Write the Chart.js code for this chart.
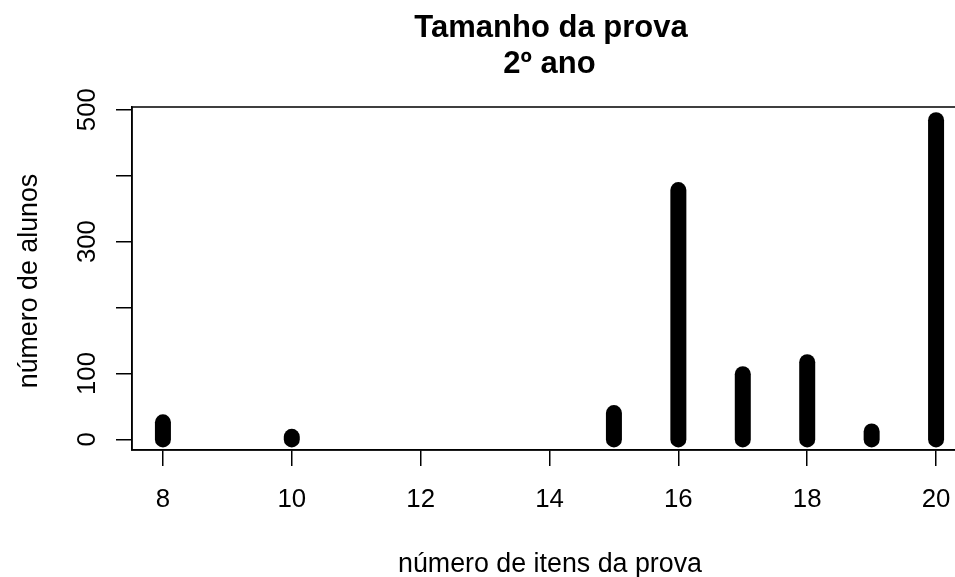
<!DOCTYPE html>
<html>
<head>
<meta charset="utf-8">
<script src="https://cdn.jsdelivr.net/npm/chart.js@4/dist/chart.umd.min.js"></script>
<style>
html, body { margin: 0; padding: 0; overflow: hidden; background: #fff; }
#wrap { width: 1000px; height: 577px; }
</style>
</head>
<body>
<div id="wrap"><canvas id="c" width="1000" height="577"></canvas></div>
<script>
// ---- data ----
const items = [8, 10, 15, 16, 17, 18, 19, 20];          // número de itens da prova
const counts = [26, 4, 40, 378, 99, 117, 12, 484];      // número de alunos
const xTicks = [8, 10, 12, 14, 16, 18, 20];
const xTickLabels = ['8', '10', '12', '14', '16', '18', '20'];
const yTicks = [0, 100, 200, 300, 400, 500];
const yTickLabels = ['0', '100', '', '300', '', '500'];
const titleLines = ['Tamanho da prova', '2º ano'];
const xTitle = 'número de itens da prova';
const yTitle = 'número de alunos';

const FONT = '"Liberation Sans", Arial, Helvetica, sans-serif';

const datasets = items.map((x, i) => ({
  data: [{ x: x, y: 0 }, { x: x, y: counts[i] }],
  borderColor: '#000',
  borderWidth: 16,
  borderCapStyle: 'round',
  pointRadius: 0,
  pointHoverRadius: 0,
  fill: false,
  clip: false,
  tension: 0
}));

const textPlugin = {
  id: 'rtext',
  afterDraw(chart) {
    const ctx = chart.ctx;
    const a = chart.chartArea;
    const xs = chart.scales.x, ys = chart.scales.y;
    ctx.save();
    // box
    ctx.strokeStyle = '#000';
    ctx.lineWidth = 1.5;
    ctx.strokeRect(a.left, a.top, a.right - a.left, a.bottom - a.top);
    ctx.fillStyle = '#000';
    // x tick labels
    ctx.font = '25.8px ' + FONT;
    ctx.textAlign = 'center';
    ctx.textBaseline = 'alphabetic';
    xTicks.forEach((v, i) => {
      ctx.fillText(xTickLabels[i], xs.getPixelForValue(v), 507);
    });
    // y tick labels (rotated)
    yTicks.forEach((v, i) => {
      if (!yTickLabels[i]) return;
      ctx.save();
      ctx.translate(95, ys.getPixelForValue(v));
      ctx.rotate(-Math.PI / 2);
      ctx.fillText(yTickLabels[i], 0, 0);
      ctx.restore();
    });
    // x title
    const cx = (a.left + a.right) / 2;
    ctx.font = '26.8px ' + FONT;
    ctx.fillText(xTitle, cx + 0.5, 571.5);
    // y title
    ctx.save();
    ctx.translate(37, (a.top + a.bottom) / 2 + 2.5);
    ctx.rotate(-Math.PI / 2);
    ctx.fillText(yTitle, 0, 0);
    ctx.restore();
    // main title
    ctx.font = 'bold 31px ' + FONT;
    ctx.fillText(titleLines[0], cx + 1.5, 37);
    ctx.fillText(titleLines[1], cx, 73);
    ctx.restore();
  }
};

new Chart(document.getElementById('c'), {
  type: 'line',
  data: { datasets: datasets },
  options: {
    responsive: false,
    animation: false,
    events: [],
    layout: { padding: { left: 116, right: 33, top: 107, bottom: 111 } },
    plugins: { legend: { display: false }, tooltip: { enabled: false }, title: { display: false } },
    scales: {
      x: {
        type: 'linear',
        min: 7.52,
        max: 20.48,
        afterBuildTicks: axis => { axis.ticks = xTicks.map(v => ({ value: v })); },
        ticks: { display: false },
        grid: { display: true, drawOnChartArea: false, drawTicks: true, tickLength: 16, color: '#000', lineWidth: 1.5 },
        border: { display: true, color: '#000', width: 1.5 },
        title: { display: false }
      },
      y: {
        type: 'linear',
        min: -16,
        max: 504,
        afterBuildTicks: axis => { axis.ticks = yTicks.map(v => ({ value: v })); },
        ticks: { display: false },
        grid: { display: true, drawOnChartArea: false, drawTicks: true, tickLength: 16, color: '#000', lineWidth: 1.5 },
        border: { display: true, color: '#000', width: 1.5 },
        title: { display: false }
      }
    }
  },
  plugins: [textPlugin]
});
</script>
</body>
</html>
